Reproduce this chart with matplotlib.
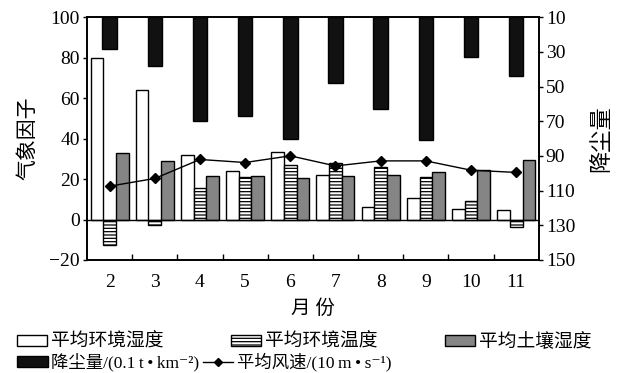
import numpy as np
import matplotlib
matplotlib.use("Agg")
import matplotlib.pyplot as plt
from matplotlib.patches import Patch
from matplotlib.lines import Line2D

plt.rcParams['font.family'] = ['Liberation Serif', 'Noto Sans CJK SC', 'DejaVu Sans']
plt.rcParams['hatch.linewidth'] = 0.9

months = [2, 3, 4, 5, 6, 7, 8, 9, 10, 11]
humidity = [80, 64, 32, 24, 33.5, 22, 6, 10.5, 5, 4.6]
temperature = [-12.7, -2.6, 15.6, 21, 27.2, 28, 26, 21, 9.4, -3.5]
soil = [33, 29, 21.6, 21.6, 20.4, 21.6, 22, 23.6, 24.7, 29.2]
wind = [16.5, 20.3, 29.7, 28.2, 31.5, 26.5, 29, 29, 24.4, 23.3]
dust = [28.5, 38, 70, 67, 80, 48, 63, 81, 33, 44]

x = np.array(months)
w = 0.28

fig = plt.figure(figsize=(6.2, 3.73), dpi=100)
ax = fig.add_axes([0.1403, 0.303, 0.7287, 0.6506])
ax2 = ax.twinx()

ax.bar(x - w, humidity, w, color='white', edgecolor='black', linewidth=1)
ax.bar(x, temperature, w, color='white', edgecolor='black', linewidth=1, hatch='-----')
ax.bar(x + w, soil, w, color='#858585', edgecolor='black', linewidth=1)
ax.plot(x, wind, color='black', marker='D', markersize=5, linewidth=1)
ax.axhline(0, color='black', linewidth=1)

ax2.bar(x, np.array(dust) - 10, 0.32, bottom=10, color='#111111', edgecolor='black')

ax.set_xlim(1.5, 11.5)
ax.set_ylim(-20, 100)
ax.set_yticks(range(-20, 101, 20))
ax2.set_ylim(150, 10)
ax2.set_yticks(range(10, 151, 20))

ax.set_xticks(x)
ax.set_xticklabels([str(m) for m in months])
ax.set_xticks(np.arange(2.5, 11.5, 1), minor=True)
ax.tick_params(axis='x', which='major', length=0, labelsize=14, pad=10)
ax.tick_params(axis='x', which='minor', direction='in', length=4, width=1)
ax.tick_params(axis='y', direction='out', length=3, width=1, labelsize=14, pad=2)
ax2.tick_params(axis='y', direction='out', length=3, width=1, labelsize=14, pad=2)

for a in (ax, ax2):
    for s in a.spines.values():
        s.set_linewidth(1.2)

ax.set_xlabel('月 份', fontsize=14, labelpad=6)
ax.set_ylabel('气象因子', fontsize=15, labelpad=8)
ax2.set_ylabel('降尘量', fontsize=16, labelpad=12)

row1 = [Patch(facecolor='white', edgecolor='black', label='平均环境湿度'),
        Patch(facecolor='white', edgecolor='black', hatch='-----', label='平均环境温度'),
        Patch(facecolor='#858585', edgecolor='black', label='平均土壤湿度')]
row2 = [Patch(facecolor='#111111', edgecolor='black',
              label='降尘量/(0.1\u2009t\u2009•\u2009km⁻²)'),
        Line2D([], [], color='black', marker='D', markersize=4, linewidth=1,
               label='平均风速/(10\u2009m\u2009•\u2009s⁻¹)')]

fig.legend(handles=row1, loc='center left', bbox_to_anchor=(0.028, 0.083),
           ncol=3, frameon=False, fontsize=13.5, handlelength=1.6,
           handleheight=0.55, handletextpad=0.2, columnspacing=3.6,
           borderaxespad=0, borderpad=0)
fig.legend(handles=row2, loc='center left', bbox_to_anchor=(0.028, 0.029),
           ncol=2, frameon=False, fontsize=12.5, handlelength=1.75,
           handleheight=0.6, handletextpad=0.2, columnspacing=0.2,
           borderaxespad=0, borderpad=0)

fig.savefig('out.png', dpi=100)
